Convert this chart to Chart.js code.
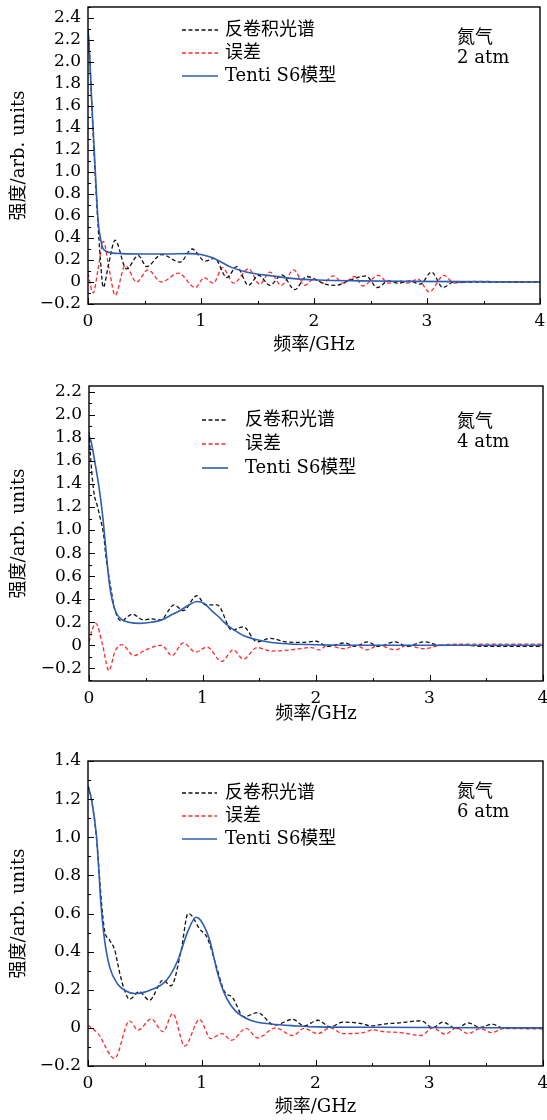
<!DOCTYPE html>
<html>
<head>
<meta charset="utf-8">
<script src="https://cdn.jsdelivr.net/npm/chart.js@4.4.1/dist/chart.umd.min.js"></script>
<style>
  html, body { margin: 0; padding: 0; background: #fff; }
  canvas { display: block; }
</style>
</head>
<body>
<canvas id="c1" width="547" height="370"></canvas>
<canvas id="c2" width="547" height="375"></canvas>
<canvas id="c3" width="547" height="375"></canvas>
<script>
// labels
const seriesNames = ["反卷积光谱", "误差", "Tenti S6模型"];
const gasName = "氮气";
const pressures = ["2 atm", "4 atm", "6 atm"];
const xTitle = "频率/GHz";
const yTitle = "强度/arb. units";

// 2 atm
const p1SpecX = [0, 0.015, 0.03, 0.05, 0.07, 0.09, 0.11, 0.135, 0.18, 0.24, 0.34, 0.445, 0.52, 0.65, 0.815, 0.92, 1.035, 1.12, 1.23, 1.315, 1.42, 1.51, 1.61, 1.715, 1.83, 1.935, 2.02, 2.1, 2.2, 2.3, 2.46, 2.56, 2.66, 2.75, 2.85, 2.94, 3.04, 3.14, 3.24, 3.5, 4.0];
const p1SpecY = [2.30, 2.05, 1.70, 1.25, 0.85, 0.50, 0.20, -0.05, 0.15, 0.38, 0.12, 0.24, 0.14, 0.25, 0.18, 0.30, 0.19, 0.215, 0.04, 0.14, -0.03, 0.06, -0.03, 0.065, -0.07, 0.05, 0.02, -0.02, -0.03, 0.01, 0.055, -0.05, 0.01, -0.01, 0.01, -0.02, 0.09, -0.05, 0.0, 0.0, 0.0];
const p1ErrX = [0, 0.045, 0.09, 0.135, 0.19, 0.24, 0.33, 0.43, 0.53, 0.65, 0.80, 0.95, 1.03, 1.11, 1.19, 1.29, 1.42, 1.52, 1.61, 1.71, 1.82, 1.92, 2.0, 2.08, 2.17, 2.26, 2.36, 2.43, 2.57, 2.66, 2.75, 2.83, 2.92, 3.02, 3.15, 3.24, 3.4, 4.0];
const p1ErrY = [0.08, -0.10, 0.12, 0.37, 0.10, -0.12, 0.15, 0.0, 0.11, 0.0, 0.08, -0.05, 0.04, -0.01, 0.13, -0.01, 0.12, -0.02, 0.09, -0.03, 0.11, -0.03, 0.03, -0.01, 0.055, -0.01, 0.05, -0.035, 0.06, -0.01, 0.01, -0.01, 0.025, -0.09, 0.06, -0.01, 0.005, 0.0];
const p1ModelX = [0, 0.015, 0.03, 0.05, 0.07, 0.09, 0.11, 0.13, 0.16, 0.21, 0.3, 0.5, 0.7, 0.9, 1.0, 1.09, 1.18, 1.27, 1.39, 1.51, 1.63, 1.8, 2.04, 2.4, 2.8, 3.3, 4.0];
const p1ModelY = [2.30, 2.05, 1.70, 1.30, 0.90, 0.55, 0.40, 0.31, 0.28, 0.265, 0.258, 0.255, 0.255, 0.258, 0.25, 0.224, 0.18, 0.133, 0.094, 0.07, 0.055, 0.033, 0.018, 0.01, 0.006, 0.003, 0.0];

// 4 atm
const p2SpecX = [0, 0.018, 0.044, 0.07, 0.1, 0.13, 0.15, 0.175, 0.2, 0.22, 0.26, 0.29, 0.33, 0.38, 0.48, 0.55, 0.63, 0.75, 0.83, 0.95, 1.03, 1.13, 1.26, 1.36, 1.48, 1.6, 1.73, 1.87, 2.0, 2.1, 2.25, 2.35, 2.45, 2.55, 2.7, 2.8, 2.95, 3.1, 3.3, 3.5, 4.0];
const p2SpecY = [1.85, 1.58, 1.32, 1.22, 1.10, 0.95, 0.76, 0.60, 0.45, 0.34, 0.23, 0.21, 0.24, 0.27, 0.22, 0.23, 0.22, 0.35, 0.30, 0.43, 0.35, 0.35, 0.13, 0.16, 0.03, 0.06, 0.03, 0.025, 0.035, -0.01, 0.02, -0.01, 0.03, -0.01, 0.03, -0.01, 0.03, 0.0, 0.0, -0.01, -0.01];
const p2ErrX = [0, 0.03, 0.06, 0.12, 0.175, 0.23, 0.29, 0.395, 0.5, 0.64, 0.73, 0.83, 0.94, 1.04, 1.17, 1.27, 1.36, 1.48, 1.61, 1.78, 1.96, 2.03, 2.1, 2.25, 2.35, 2.45, 2.55, 2.7, 2.8, 2.95, 3.1, 3.35, 3.5, 4.0];
const p2ErrY = [0.03, 0.14, 0.19, 0.0, -0.22, -0.05, 0.005, -0.09, -0.04, 0.0, -0.09, 0.02, -0.06, -0.015, -0.14, -0.04, -0.12, -0.02, -0.05, -0.04, -0.02, -0.04, 0.0, -0.03, 0.0, -0.04, 0.0, -0.04, 0.0, -0.03, 0.0, 0.01, 0.01, 0.01];
const p2ModelX = [0, 0.02, 0.05, 0.09, 0.115, 0.13, 0.152, 0.18, 0.205, 0.24, 0.28, 0.35, 0.45, 0.55, 0.64, 0.72, 0.8, 0.88, 0.95, 1.02, 1.08, 1.14, 1.2, 1.26, 1.37, 1.52, 1.7, 2.0, 2.5, 4.0];
const p2ModelY = [1.82, 1.76, 1.60, 1.36, 1.17, 1.03, 0.80, 0.53, 0.39, 0.28, 0.23, 0.20, 0.19, 0.20, 0.22, 0.26, 0.30, 0.35, 0.38, 0.36, 0.30, 0.25, 0.19, 0.145, 0.08, 0.04, 0.015, 0.005, 0.0, 0.0];

// 6 atm
const p3SpecX = [0, 0.03, 0.074, 0.1, 0.12, 0.146, 0.19, 0.234, 0.28, 0.32, 0.365, 0.45, 0.54, 0.66, 0.73, 0.82, 0.88, 0.91, 0.98, 1.05, 1.13, 1.2, 1.27, 1.37, 1.49, 1.64, 1.8, 1.9, 2.02, 2.13, 2.24, 2.4, 2.49, 2.6, 2.73, 2.93, 3.03, 3.12, 3.24, 3.34, 3.45, 3.55, 3.65, 4.0];
const p3SpecY = [1.27, 1.20, 1.0, 0.8, 0.65, 0.51, 0.46, 0.41, 0.285, 0.20, 0.15, 0.19, 0.145, 0.25, 0.22, 0.41, 0.60, 0.59, 0.52, 0.47, 0.32, 0.19, 0.16, 0.058, 0.08, 0.014, 0.045, 0.01, 0.04, 0.005, 0.03, 0.023, 0.01, 0.02, 0.026, 0.037, 0.0, 0.03, -0.004, 0.026, 0.002, 0.02, 0.0, 0.0];
const p3ErrX = [0, 0.088, 0.234, 0.365, 0.44, 0.555, 0.66, 0.745, 0.85, 0.98, 1.08, 1.18, 1.26, 1.39, 1.49, 1.65, 1.8, 1.9, 2.02, 2.13, 2.24, 2.42, 2.5, 2.6, 2.75, 2.93, 3.03, 3.14, 3.24, 3.34, 3.45, 3.55, 3.65, 4.0];
const p3ErrY = [0.014, -0.03, -0.16, 0.037, -0.012, 0.047, -0.02, 0.075, -0.095, 0.044, -0.056, -0.03, -0.065, -0.003, -0.052, 0.0, -0.04, -0.003, -0.03, 0.0, -0.03, -0.025, -0.01, -0.02, -0.025, -0.04, 0.0, -0.033, 0.0, -0.03, -0.004, -0.025, -0.004, -0.005];
const p3ModelX = [0, 0.03, 0.074, 0.1, 0.111, 0.146, 0.19, 0.26, 0.33, 0.41, 0.555, 0.69, 0.79, 0.88, 0.95, 0.99, 1.07, 1.14, 1.2, 1.29, 1.43, 1.61, 1.84, 2.03, 2.5, 4.0];
const p3ModelY = [1.27, 1.20, 1.01, 0.78, 0.67, 0.46, 0.32, 0.23, 0.195, 0.18, 0.20, 0.25, 0.355, 0.51, 0.58, 0.565, 0.46, 0.285, 0.18, 0.093, 0.04, 0.02, 0.01, 0.005, 0.003, 0.0];

const FONT = '"DejaVu Serif", "Noto Sans CJK SC", serif';
const colors = ["#111111", "#ff2b2b", "#2d5db4"];

const toPoints = (xs, ys) => xs.map((x, i) => ({ x: x, y: ys[i] }));

const fmtY = (v) => {
  if (Math.abs(v) < 1e-9) return "0";
  return (v < 0 ? "\u2212" : "") + Math.abs(v).toFixed(1);
};

// frame, inward ticks, legend and note inside the plot
const panelDecor = {
  id: "panelDecor",
  afterDraw(chart, args, opts) {
    const { ctx, chartArea: a, scales } = chart;
    const x = scales.x, y = scales.y;
    ctx.save();
    ctx.strokeStyle = "#000";
    ctx.lineWidth = 1;
    ctx.beginPath();
    y.ticks.forEach((t) => {
      const p = Math.round(y.getPixelForValue(t.value)) + 0.5;
      ctx.moveTo(a.left, p);
      ctx.lineTo(a.left + 6, p);
    });
    for (let k = Math.ceil(y.min * 10); k <= Math.floor(y.max * 10); k++) {
      if (k % 2 === 0) continue;
      const p = Math.round(y.getPixelForValue(k / 10)) + 0.5;
      ctx.moveTo(a.left, p);
      ctx.lineTo(a.left + 3, p);
    }
    for (let k = 0; k <= 8; k++) {
      const p = Math.round(x.getPixelForValue(k / 2)) + 0.5;
      ctx.moveTo(p, a.bottom);
      ctx.lineTo(p, a.bottom - (k % 2 ? 3 : 6));
    }
    ctx.stroke();

    ctx.lineWidth = 1.4;
    ctx.strokeRect(a.left, a.top, a.right - a.left, a.bottom - a.top);

    // legend
    ctx.font = "18px " + FONT;
    ctx.fillStyle = "#000";
    ctx.textBaseline = "middle";
    chart.data.datasets.forEach((ds, i) => {
      const ly = a.top + opts.legendTop + i * opts.legendGap;
      ctx.beginPath();
      ctx.strokeStyle = ds.borderColor;
      ctx.lineWidth = ds.borderWidth;
      ctx.setLineDash(ds.borderDash || []);
      ctx.moveTo(a.left + opts.lineFrom, ly);
      ctx.lineTo(a.left + opts.lineTo, ly);
      ctx.stroke();
      ctx.setLineDash([]);
      ctx.fillText(ds.label, a.left + opts.textAt, ly);
    });

    // gas / pressure note
    opts.note.forEach((txt, i) => {
      ctx.fillText(txt, a.left + opts.noteX, a.top + opts.noteTop + i * 20);
    });
    ctx.restore();
  },
};

function makeChart(id, data, box, deco) {
  const canvas = document.getElementById(id);
  const W = canvas.width, H = canvas.height;
  return new Chart(canvas.getContext("2d"), {
    type: "line",
    data: {
      datasets: [
        {
          label: seriesNames[0],
          data: toPoints(data.specX, data.specY),
          borderColor: colors[0],
          borderWidth: 1.3,
          borderDash: [4, 2.5],
          order: 1,
        },
        {
          label: seriesNames[1],
          data: toPoints(data.errX, data.errY),
          borderColor: colors[1],
          borderWidth: 1.3,
          borderDash: [4, 2.5],
          order: 2,
        },
        {
          label: seriesNames[2],
          data: toPoints(data.modelX, data.modelY),
          borderColor: colors[2],
          borderWidth: 1.6,
          order: 0,
        },
      ],
    },
    options: {
      responsive: false,
      animation: false,
      devicePixelRatio: 1,
      layout: { padding: { left: 0, top: box.top, right: W - box.right, bottom: 0 } },
      elements: {
        point: { radius: 0 },
        line: { cubicInterpolationMode: "monotone", fill: false },
      },
      scales: {
        x: {
          type: "linear",
          min: 0,
          max: 4,
          afterFit: (s) => { s.height = H - box.bottom; s.paddingLeft = 0; s.paddingRight = 0; },
          grid: { display: false, drawTicks: false },
          border: { display: false },
          ticks: { stepSize: 1, autoSkip: false, maxRotation: 0, padding: 7, color: "#000", font: { family: FONT, size: 17 }, callback: (v) => String(v) },
          title: { display: true, text: xTitle, color: "#000", font: { family: FONT, size: 18 }, padding: { top: 0, bottom: box.xTitlePad } },
        },
        y: {
          type: "linear",
          min: data.yMin,
          max: data.yMax,
          afterFit: (s) => { s.width = box.left; s.paddingTop = 0; s.paddingBottom = 0; },
          grid: { display: false, drawTicks: false },
          border: { display: false },
          ticks: { stepSize: 0.2, includeBounds: false, autoSkip: false, padding: 7, color: "#000", font: { family: FONT, size: 17 }, callback: fmtY },
          title: { display: true, text: yTitle, color: "#000", font: { family: FONT, size: 18 }, padding: { top: 9, bottom: 0 } },
        },
      },
      plugins: {
        legend: { display: false },
        tooltip: { enabled: false },
        panelDecor: deco,
      },
    },
    plugins: [panelDecor],
  });
}

makeChart("c1",
  { specX: p1SpecX, specY: p1SpecY, errX: p1ErrX, errY: p1ErrY, modelX: p1ModelX, modelY: p1ModelY, yMin: -0.2, yMax: 2.5 },
  { left: 88, top: 7, right: 540, bottom: 304, xTitlePad: 14 },
  { legendTop: 23, legendGap: 23, lineFrom: 94, lineTo: 130, textAt: 137, noteX: 369, noteTop: 31, note: [gasName, pressures[0]] });

makeChart("c2",
  { specX: p2SpecX, specY: p2SpecY, errX: p2ErrX, errY: p2ErrY, modelX: p2ModelX, modelY: p2ModelY, yMin: -0.31, yMax: 2.25 },
  { left: 89, top: 16, right: 543, bottom: 311, xTitlePad: 20 },
  { legendTop: 34, legendGap: 24, lineFrom: 113, lineTo: 139, textAt: 156, noteX: 368, noteTop: 36, note: [gasName, pressures[1]] });

makeChart("c3",
  { specX: p3SpecX, specY: p3SpecY, errX: p3ErrX, errY: p3ErrY, modelX: p3ModelX, modelY: p3ModelY, yMin: -0.2, yMax: 1.4 },
  { left: 88, top: 16, right: 543, bottom: 321, xTitlePad: 2 },
  { legendTop: 32, legendGap: 23, lineFrom: 94, lineTo: 129, textAt: 137, noteX: 369, noteTop: 31, note: [gasName, pressures[2]] });
</script>
</body>
</html>
